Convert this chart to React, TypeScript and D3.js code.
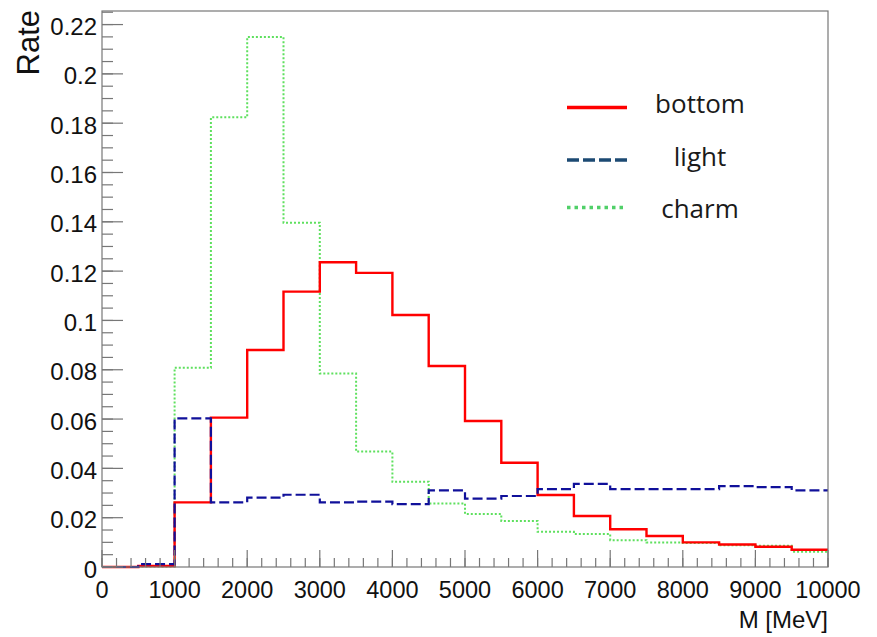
import { useEffect } from "react";
import { scaleLinear, line, curveStepAfter, range } from "d3";

// bin lower edges in MeV (bin width 500)
const binEdges = [0, 500, 1000, 1500, 2000, 2500, 3000, 3500, 4000, 4500, 5000, 5500, 6000, 6500, 7000, 7500, 8000, 8500, 9000, 9500];
const upperEdge = 10000;

const bottomRate = [0.0, 0.0004, 0.0262, 0.0606, 0.088, 0.1117, 0.1236, 0.1193, 0.1022, 0.0815, 0.0592, 0.0423, 0.0292, 0.0207, 0.0153, 0.0126, 0.01, 0.0091, 0.0082, 0.007];
const lightRate = [0.0, 0.0012, 0.0603, 0.0262, 0.0281, 0.0293, 0.0262, 0.0265, 0.0255, 0.0311, 0.0277, 0.0288, 0.0316, 0.0337, 0.0316, 0.0316, 0.0316, 0.0328, 0.0324, 0.0311];
const charmRate = [0.0, 0.0002, 0.0808, 0.1824, 0.215, 0.1396, 0.0785, 0.0468, 0.0346, 0.0258, 0.0215, 0.0187, 0.0143, 0.0134, 0.0109, 0.0099, 0.0097, 0.0088, 0.0086, 0.0062];

const yTickValues = [0, 0.02, 0.04, 0.06, 0.08, 0.1, 0.12, 0.14, 0.16, 0.18, 0.2, 0.22];
const yTickLabels = ["0", "0.02", "0.04", "0.06", "0.08", "0.1", "0.12", "0.14", "0.16", "0.18", "0.2", "0.22"];
const xTickValues = [0, 1000, 2000, 3000, 4000, 5000, 6000, 7000, 8000, 9000, 10000];
const xTickLabels = ["0", "1000", "2000", "3000", "4000", "5000", "6000", "7000", "8000", "9000", "10000"];

const legendNames = ["bottom", "light", "charm"];

const width = 877;
const height = 637;
const left = 102;
const right = 828;
const top = 11;
const bottom = 567;
const axisFont = "'Liberation Sans', Arial, Helvetica, sans-serif";

export default function App() {
  useEffect(() => {
    document.body.style.margin = "0";
  }, []);

  const x = scaleLinear().domain([0, upperEdge]).range([left, right]);
  const y = scaleLinear().domain([0, 0.2255]).range([bottom, top]);

  const stepPath = (values: number[]) => {
    const pts: [number, number][] = binEdges.map((e, i) => [e, values[i]]);
    pts.push([upperEdge, values[values.length - 1]]);
    return (
      line<[number, number]>()
        .x((d) => x(d[0]))
        .y((d) => y(d[1]))
        .curve(curveStepAfter)(pts) || ""
    );
  };

  const yMinor = range(0, 0.2255, 0.005);
  const xMinor = range(0, upperEdge + 1, 200);

  const series = [
    { name: "charm", values: charmRate, color: "#5ee05e", dash: "2,2", w: 2 },
    { name: "bottom", values: bottomRate, color: "#ff0000", dash: undefined, w: 2.4 },
    { name: "light", values: lightRate, color: "#10109a", dash: "10,4", w: 2.2 },
  ];

  const legendStyles = [
    { color: "#ff0000", dash: undefined, w: 3.5 },
    { color: "#1c4a73", dash: "12,4", w: 3.5 },
    { color: "#50d068", dash: "3.5,4", w: 3.5 },
  ];
  const legendLineY = [107.5, 160, 207.5];
  const legendTextY = [113, 166, 218];

  return (
    <svg width={width} height={height} style={{ display: "block", background: "#fff" }}>
      <defs>
        <clipPath id="plotclip">
          <rect x={left} y={top} width={right - left} height={bottom - top + 2} />
        </clipPath>
      </defs>
      <rect x={0} y={0} width={width} height={height} fill="#fff" />
      {/* histograms */}
      <g clipPath="url(#plotclip)">
        {series.map((s) => (
          <path
            key={s.name}
            d={stepPath(s.values)}
            fill="none"
            stroke={s.color}
            strokeWidth={s.w}
            strokeDasharray={s.dash}
          />
        ))}
      </g>
      {/* frame */}
      <rect x={left} y={top} width={right - left} height={bottom - top} fill="none" stroke="#777" strokeWidth={1.2} />
      {/* y ticks */}
      {yMinor.map((v) => (
        <line key={`ym${v}`} x1={left} x2={left + 11} y1={y(v)} y2={y(v)} stroke="#777" strokeWidth={1.2} />
      ))}
      {yTickValues.map((v, i) => (
        <g key={`yt${v}`}>
          <line x1={left} x2={left + 21} y1={y(v)} y2={y(v)} stroke="#777" strokeWidth={1.2} />
          <text x={left - 5} y={y(v) + 10.5} textAnchor="end" fontFamily={axisFont} fontSize={24} fill="#111">
            {yTickLabels[i]}
          </text>
        </g>
      ))}
      {/* x ticks */}
      {xMinor.map((v) => (
        <line key={`xm${v}`} x1={x(v)} x2={x(v)} y1={bottom} y2={bottom - 9} stroke="#777" strokeWidth={1.2} />
      ))}
      {xTickValues.map((v, i) => (
        <g key={`xt${v}`}>
          <line x1={x(v)} x2={x(v)} y1={bottom} y2={bottom - 17} stroke="#777" strokeWidth={1.2} />
          <text x={x(v)} y={598} textAnchor="middle" fontFamily={axisFont} fontSize={23.5} fill="#111">
            {xTickLabels[i]}
          </text>
        </g>
      ))}
      {/* axis titles */}
      <text
        transform={`translate(39,10) rotate(-90)`}
        textAnchor="end"
        fontFamily={axisFont}
        fontSize={31}
        fill="#111"
      >
        Rate
      </text>
      <text x={828} y={628} textAnchor="end" fontFamily={axisFont} fontSize={24} fill="#111">
        M [MeV]
      </text>
      {/* legend */}
      {legendNames.map((name, i) => (
        <g key={name}>
          <line
            x1={567}
            x2={627}
            y1={legendLineY[i]}
            y2={legendLineY[i]}
            stroke={legendStyles[i].color}
            strokeWidth={legendStyles[i].w}
            strokeDasharray={legendStyles[i].dash}
          />
          <text
            x={700}
            y={legendTextY[i]}
            textAnchor="middle"
            fontFamily="'Open Sans', 'Noto Sans', sans-serif"
            fontSize={26}
            fill="#1a1a1a"
          >
            {name}
          </text>
        </g>
      ))}
    </svg>
  );
}
